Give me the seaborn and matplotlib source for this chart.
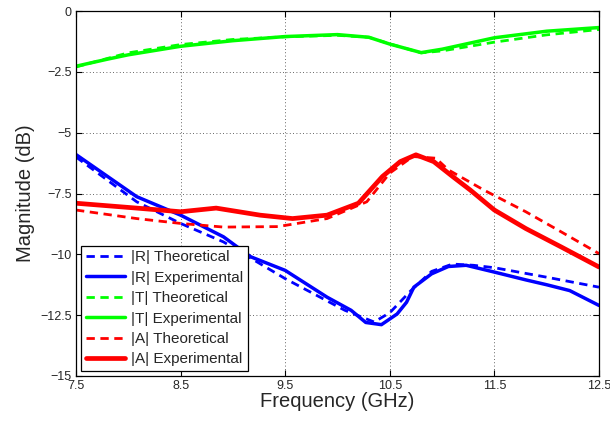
import numpy as np
import pandas as pd
import matplotlib
matplotlib.use("Agg")
import matplotlib.pyplot as plt
import seaborn as sns

# ---- data (frequency in GHz, magnitude in dB) ----
t_theo_f = [7.5, 7.8, 8.0, 8.5, 9.0, 9.5, 10.0, 10.3, 10.5, 10.8, 11.0, 11.5, 12.0, 12.5]
t_theo_db = [-2.3, -1.95, -1.72, -1.38, -1.17, -1.06, -1.0, -1.08, -1.35, -1.72, -1.64, -1.28, -0.98, -0.76]

t_exp_f = [7.5, 7.8, 8.0, 8.5, 9.0, 9.5, 10.0, 10.3, 10.5, 10.8, 11.0, 11.5, 12.0, 12.5]
t_exp_db = [-2.27, -1.98, -1.8, -1.45, -1.22, -1.05, -0.97, -1.08, -1.36, -1.71, -1.57, -1.1, -0.83, -0.68]

r_theo_f = [7.5, 8.08, 8.5, 8.91, 9.5, 10.07, 10.35, 10.5, 10.7, 10.9, 11.1, 11.3, 11.5, 12.0, 12.5]
r_theo_db = [-6.0, -7.84, -8.73, -9.49, -11.0, -12.3, -12.78, -12.4, -11.5, -10.7, -10.4, -10.45, -10.55, -10.94, -11.35]

r_exp_f = [7.5, 8.08, 8.5, 8.91, 9.17, 9.5, 9.9, 10.13, 10.27, 10.42, 10.57, 10.66, 10.73, 10.9,
           11.06, 11.23, 11.5, 11.8, 12.0, 12.22, 12.5]
r_exp_db = [-5.9, -7.63, -8.39, -9.28, -10.1, -10.66, -11.76, -12.3, -12.8, -12.89, -12.45, -11.97,
            -11.35, -10.8, -10.5, -10.45, -10.73, -11.05, -11.25, -11.49, -12.1]

a_theo_f = [7.5, 8.08, 8.5, 8.91, 9.43, 9.9, 10.28, 10.5, 10.72, 10.94, 11.06, 11.4, 11.8, 12.14, 12.5]
a_theo_db = [-8.18, -8.53, -8.73, -8.88, -8.86, -8.53, -7.84, -6.66, -5.98, -6.05, -6.53, -7.36,
             -8.25, -9.08, -9.97]

a_exp_f = [7.5, 8.08, 8.5, 8.84, 9.26, 9.57, 9.9, 10.2, 10.43, 10.6, 10.75, 10.92, 11.1, 11.27,
           11.5, 11.8, 12.14, 12.5]
a_exp_db = [-7.9, -8.1, -8.25, -8.1, -8.39, -8.53, -8.39, -7.9, -6.8, -6.19, -5.91, -6.19, -6.8,
            -7.36, -8.18, -8.94, -9.7, -10.52]

series = [
    ("|R| Theoretical", r_theo_f, r_theo_db, "#0000ff", True, 2.0),
    ("|R| Experimental", r_exp_f, r_exp_db, "#0000ff", False, 2.5),
    ("|T| Theoretical", t_theo_f, t_theo_db, "#00ff00", True, 2.0),
    ("|T| Experimental", t_exp_f, t_exp_db, "#00ff00", False, 2.5),
    ("|A| Theoretical", a_theo_f, a_theo_db, "#ff0000", True, 2.0),
    ("|A| Experimental", a_exp_f, a_exp_db, "#ff0000", False, 3.4),
]

sns.set_theme(style="white")
plt.rcParams["font.family"] = ["Liberation Sans", "DejaVu Sans"]
plt.rcParams["axes.unicode_minus"] = True

fig = plt.figure(figsize=(6.1, 4.21), dpi=100)
ax = fig.add_axes([76 / 610, 45 / 421, 523 / 610, 365 / 421])

for name, f, db, col, dashed, lw in series:
    df = pd.DataFrame({"f": f, "db": db})
    sns.lineplot(data=df, x="f", y="db", ax=ax, color=col, linewidth=lw,
                 label=name, sort=False, estimator=None)
    if dashed:
        ax.lines[-1].set_dashes((3, 2))

ax.set_xlim(7.5, 12.5)
ax.set_ylim(-15, 0)
ax.set_xticks([7.5, 8.5, 9.5, 10.5, 11.5, 12.5])
ax.set_yticks([-15, -12.5, -10, -7.5, -5, -2.5, 0])
ax.set_yticklabels(["\u221215", "\u221212.5", "\u221210", "\u22127.5", "\u22125", "\u22122.5", "0"])
ax.grid(True, linestyle=(0, (1, 3)), color="#333333", linewidth=0.6)
ax.tick_params(direction="in", length=4, width=0.8, labelsize=9, color="black",
               top=True, right=True, bottom=True, left=True, pad=3)
for s in ax.spines.values():
    s.set_color("black")
    s.set_linewidth(0.9)

ax.set_xlabel("Frequency (GHz)", fontsize=14.5, labelpad=0)
ax.set_ylabel("Magnitude (dB)", fontsize=14.5, labelpad=4)

leg = ax.legend(loc="lower left", fontsize=11, handlelength=2.6, labelspacing=0.42,
                borderaxespad=0.33, handletextpad=0.4, borderpad=0.3, fancybox=False,
                framealpha=1)
leg.get_frame().set_edgecolor("black")
leg.get_frame().set_linewidth(0.9)

fig.savefig("out.png", dpi=100)
